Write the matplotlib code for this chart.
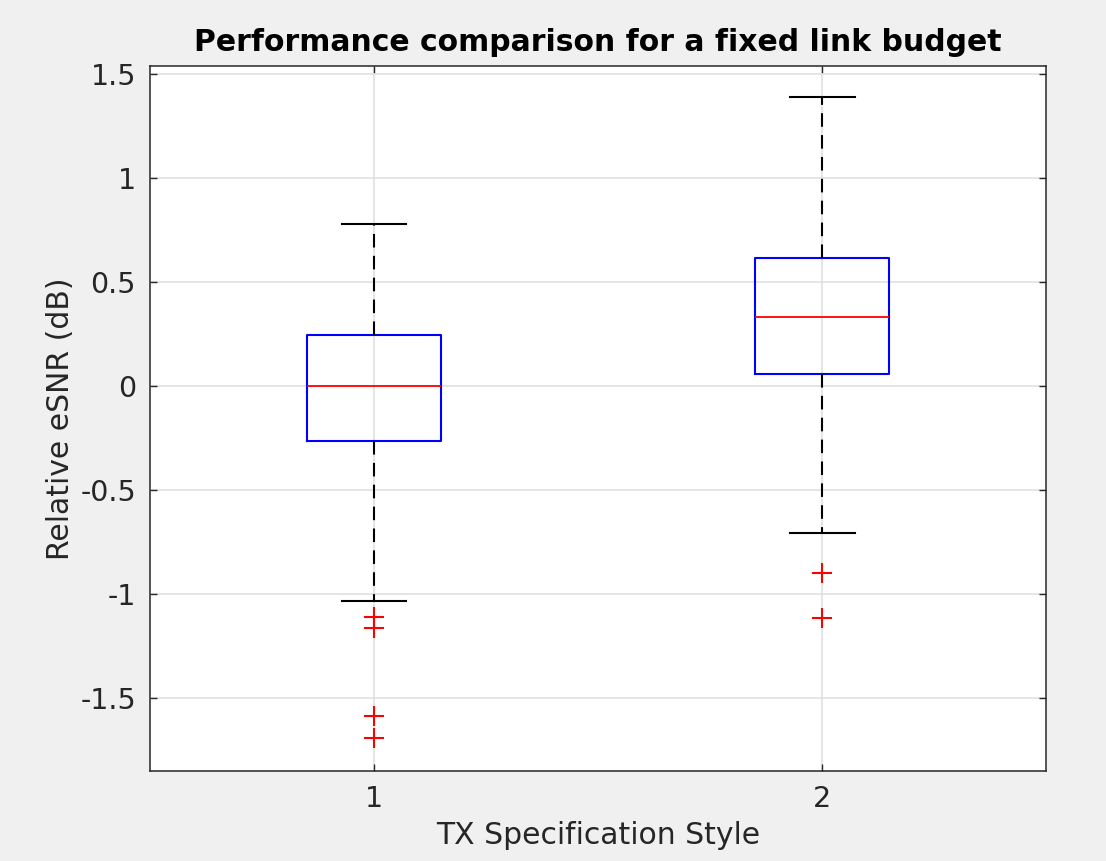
import matplotlib.pyplot as plt

# group labels and box statistics
groups = [1, 2]
medians = [0.0, 0.332]
q1s = [-0.264, 0.058]
q3s = [0.245, 0.615]
whisk_lo = [-1.034, -0.708]
whisk_hi = [0.779, 1.389]
outliers = [[-1.109, -1.165, -1.587, -1.694], [-0.898, -1.117]]

yticks = [-1.5, -1, -0.5, 0, 0.5, 1, 1.5]
ytick_labels = ['-1.5', '-1', '-0.5', '0', '0.5', '1', '1.5']

stats = []
for ii in range(len(groups)):
    stats.append(dict(med=medians[ii], q1=q1s[ii], q3=q3s[ii],
                      whislo=whisk_lo[ii], whishi=whisk_hi[ii],
                      fliers=outliers[ii], label=str(groups[ii])))

txt = '#262626'
fig = plt.figure(figsize=(11.06, 8.61), dpi=100, facecolor='#f0f0f0')
ax = fig.add_axes([0.1356, 0.1045, 0.8102, 0.8188])
ax.set_facecolor('white')

ax.bxp(stats, positions=groups, widths=0.3, capwidths=0.145,
       boxprops=dict(color='blue', linewidth=1.5),
       medianprops=dict(color='red', linewidth=1.3),
       whiskerprops=dict(color='black', linewidth=1.5, linestyle=(0, (6.5, 4))),
       capprops=dict(color='black', linewidth=1.5),
       flierprops=dict(marker='+', markeredgecolor='red', markersize=14,
                       markeredgewidth=1.5, linestyle='none'))

ax.set_xlim(0.5, 2.5)
ax.set_ylim(-1.851, 1.538)
ax.set_xticks(groups)
ax.set_xticklabels([str(g) for g in groups])
ax.set_yticks(yticks)
ax.set_yticklabels(ytick_labels)

ax.grid(True, color='#dedede', linewidth=1.1)
ax.set_axisbelow(True)
ax.tick_params(direction='in', length=5, width=1, colors=txt, labelsize=20.5,
               top=True, right=True, pad=10)
for s in ax.spines.values():
    s.set_color(txt)
    s.set_linewidth(1.1)

ax.set_title('Performance comparison for a fixed link budget', fontsize=21.5,
             fontweight='bold', color='black', pad=11)
ax.set_xlabel('TX Specification Style', fontsize=21.5, color=txt, labelpad=6)
ax.set_ylabel('Relative eSNR (dB)', fontsize=21.5, color=txt, labelpad=4)

fig.savefig('out.png', dpi=100, facecolor=fig.get_facecolor())
